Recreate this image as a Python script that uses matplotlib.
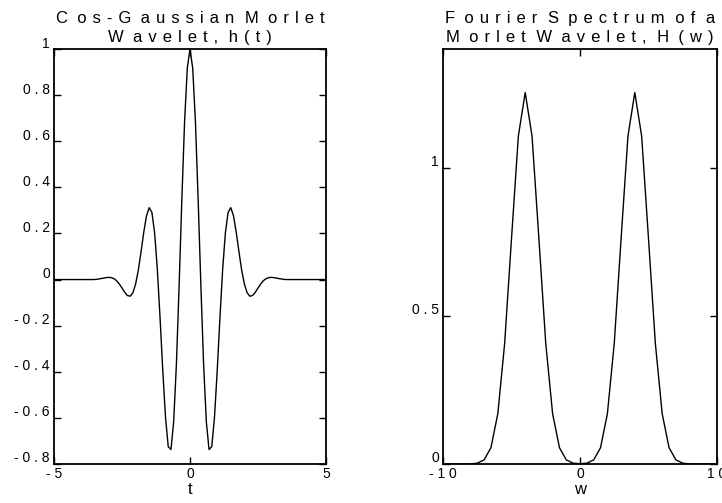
import numpy as np
import matplotlib
matplotlib.use("Agg")
import matplotlib.pyplot as plt
import matplotlib.transforms as mtransforms

plt.rcParams['font.family'] = ['Liberation Sans', 'DejaVu Sans']

# ---- data: time-domain wavelet h(t), sampled every 0.1 from -5 to 5 ----
t_start, t_stop, t_step = -5.0, 5.0, 0.1
h_pos = [1.0, 0.9165, 0.6829, 0.3464, -0.0270, -0.3673, -0.6159, -0.7375,
         -0.7249, -0.5981, -0.3965, -0.1678, 0.0426, 0.2013, 0.2911, 0.3117,
         0.2761, 0.2049, 0.1204, 0.0406, -0.0197, -0.0573, -0.0722, -0.0692,
         -0.0553, -0.0369, -0.0190, -0.0048, 0.0041, 0.0085, 0.0094, 0.0081,
         0.0058, 0.0036, 0.0017, 0.0003, 0.0, 0.0, 0.0, 0.0, 0.0, 0.0, 0.0,
         0.0, 0.0, 0.0, 0.0, 0.0, 0.0, 0.0, 0.0]
h_vals = h_pos[:0:-1] + h_pos          # symmetric wavelet, t = -5 ... 5

# ---- data: spectrum magnitude H(w), sampled every 0.5 from -10 to 10 ----
w_start, w_stop, w_step = -10.0, 10.0, 0.5
H_pos = [0.0008, 0.0028, 0.0139, 0.0551, 0.1696, 0.4069, 0.7602, 1.1060,
         1.2533, 1.1060, 0.7602, 0.4069, 0.1696, 0.0551, 0.0139, 0.0028,
         0.0004, 0.0, 0.0, 0.0, 0.0]
H_vals = H_pos[:0:-1] + H_pos

left_xticks = [-5, 0, 5]
left_yticks = [-0.8, -0.6, -0.4, -0.2, 0, 0.2, 0.4, 0.6, 0.8, 1]
right_xticks = [-10, 0, 10]
right_yticks = [0, 0.5, 1]

t = np.linspace(t_start, t_stop, len(h_vals))
w = np.linspace(w_start, w_stop, len(H_vals))


def spaced(s):
    return ' '.join(s)


def track(s):
    out = []
    for i, ch in enumerate(s):
        out.append(ch)
        if i < len(s) - 1 and ch != ' ':
            out.append('  ' if ch.isupper() else ' \u200a')
    return ''.join(out)


def fmt(v):
    if abs(v - round(v)) < 1e-9:
        s = str(int(round(v)))
    else:
        s = ('%g' % v)
    return spaced(s)


fig = plt.figure(figsize=(7.22, 5.03), dpi=100)
ax1 = fig.add_axes([54 / 722, 39 / 503, 272 / 722, 415 / 503])
ax2 = fig.add_axes([443 / 722, 39 / 503, 274 / 722, 415 / 503])

ax1.plot(t, h_vals, color='black', lw=1.0)
ax2.plot(w, H_vals, color='black', lw=1.0)

ax1.set_xlim(-5, 5)
ax1.set_ylim(-0.8, 1)
ax2.set_xlim(-10, 10)
ax2.set_ylim(0, 1.4)

for ax, xt, yt in ((ax1, left_xticks, left_yticks), (ax2, right_xticks, right_yticks)):
    ax.set_xticks(xt)
    ax.set_xticklabels([fmt(v) for v in xt])
    ax.set_yticks(yt)
    ax.set_yticklabels([fmt(v) for v in yt])
    ax.tick_params(direction='in', length=5, width=1.0, top=True, right=True,
                   labelsize=10, pad=3, colors='black')
    ax.tick_params(axis='x', pad=2)
    for sp in ax.spines.values():
        sp.set_linewidth(1.3)
    off = mtransforms.ScaledTranslation(0, 7 / 100, fig.dpi_scale_trans)
    for lab in ax.get_yticklabels():
        lab.set_transform(lab.get_transform() + off)

ax1.set_title(track('Cos-Gaussian Morlet') + '\n' + track('Wavelet, h(t)'),
              fontsize=12, pad=5, linespacing=1.35)
ax2.set_title(track('Fourier Spectrum of a') + '\n' + track('Morlet Wavelet, H(w)'),
              fontsize=12, pad=5, linespacing=1.35)
ax1.set_xlabel('t', fontsize=12, labelpad=1)
ax2.set_xlabel('w', fontsize=12, labelpad=1)

fig.savefig('out.png', dpi=100)
